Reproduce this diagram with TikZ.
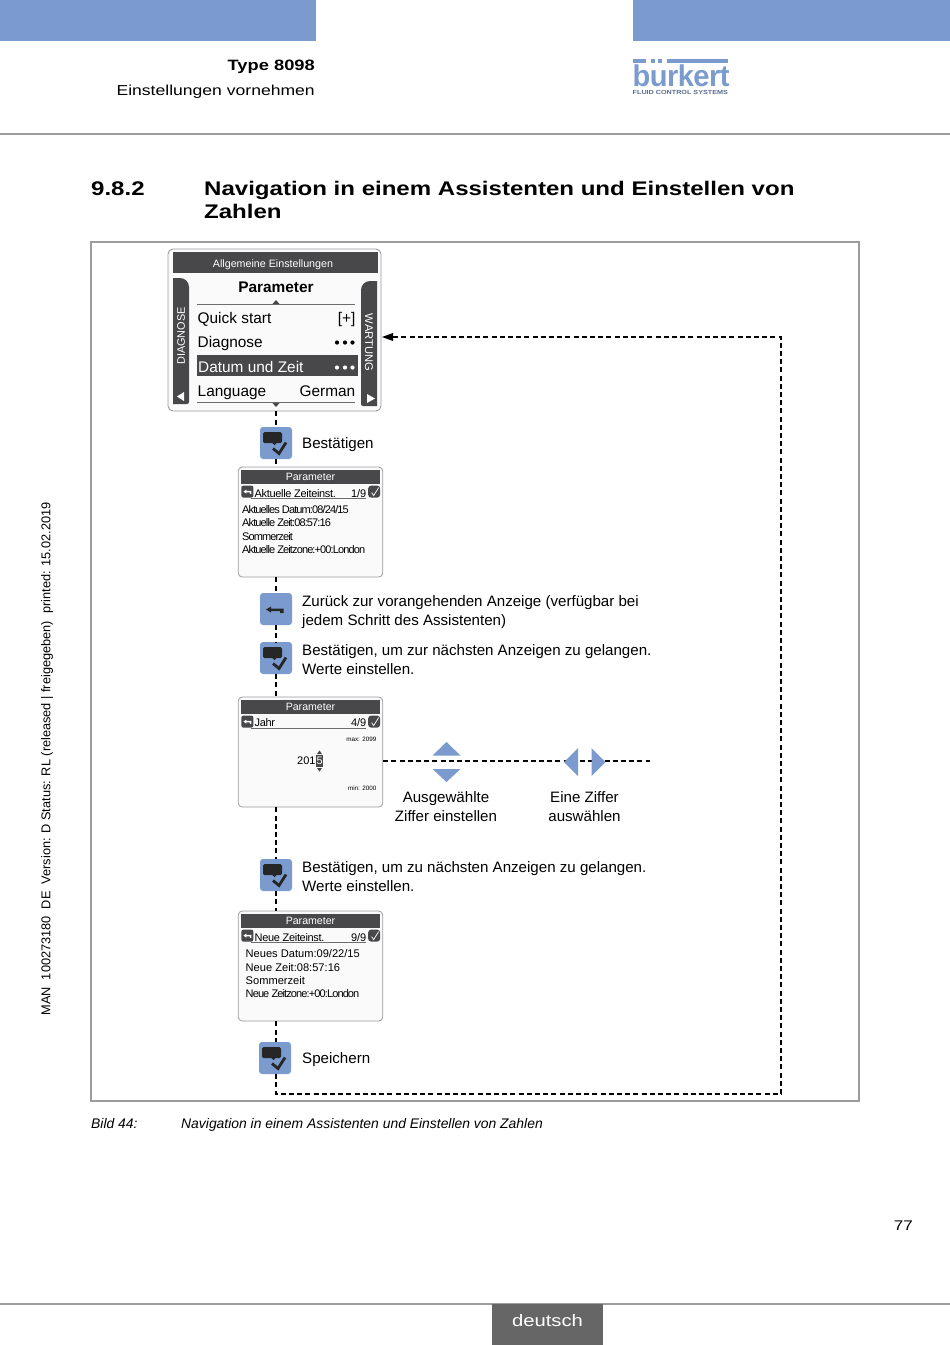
\documentclass[tikz,border=0pt]{standalone}
\usepackage{fontspec}
\setmainfont{Liberation Sans}
\newfontfamily\headfont[FakeStretch=1.22]{Liberation Sans}
\newfontfamily\tightfont[LetterSpace=-3]{Liberation Sans}
\newfontfamily\squeezefont[LetterSpace=-8]{Liberation Sans}
\definecolor{bandblue}{HTML}{7B9BCE}
\definecolor{darkbar}{HTML}{48484A}
\definecolor{rulegray}{HTML}{9A9C9E}
\newcommand{\fsz}[1]{\fontsize{#1}{#1}\selectfont}

\begin{document}
\begin{tikzpicture}[x=1pt,y=-1pt,
  txt/.style={inner sep=0pt,anchor=base west,align=left},
  body/.style={txt,font=\fsz{15.1}},
  scrtxt/.style={txt,font=\fsz{15.4}},
  smalltxt/.style={txt,font=\tightfont\fsz{11}},
  infotxt/.style={txt,font=\squeezefont\fsz{11}},
  screen/.style={draw=rulegray,line width=0.8pt,fill=black!2,rounded corners=4pt,inner sep=0pt,minimum width=144.5pt,minimum height=110pt},
  keybtn/.style={fill=bandblue,rounded corners=3pt,inner sep=0pt,minimum size=32pt},
  flow/.style={line width=1.1pt,dash pattern=on 5pt off 3.2pt},
  wedge/.style={fill=bandblue,draw=none}]

\useasboundingbox (0,0) rectangle (950,1345);

% Page head, bands and rule
\fill[bandblue] (0,0) rectangle (316,41);
\fill[bandblue] (633,0) rectangle (950,41);
\draw[rulegray,line width=1.2pt] (0,134) -- (950,134);
\node[txt,anchor=base east,font=\headfont\bfseries\fsz{15}] (doctype) at (315,70) {Type 8098};
\node[txt,anchor=base east,font=\headfont\fsz{14.4}] (docpart) at (315,95) {Einstellungen vornehmen};

% Logo
\node[txt,anchor=base west,text=bandblue,font=\bfseries\fsz{30},xscale=0.97] (logo) at (632.5,86) {\addfontfeature{LetterSpace=-2}bürkert};
\fill[white] (648.5,62.5) rectangle (665,69.8);
\fill[bandblue] (633,59) rectangle (645.5,62.5);
\fill[bandblue] (651,59) rectangle (654.5,62.5);
\fill[bandblue] (658,59) rectangle (661.5,62.5);
\fill[bandblue] (667,59) rectangle (728,62.5);
\node[txt,text=bandblue!70!black,font=\headfont\bfseries\fsz{5.9}] (logosub) at (632.5,94.5) {FLUID CONTROL SYSTEMS};

% Section title
\node[txt,font=\headfont\bfseries\fsz{19.7}] (secnum) at (91,195) {9.8.2};
\node[txt,font=\headfont\bfseries\fsz{19.7}] (sectitle) at (204,195) {Navigation in einem Assistenten und Einstellen von};
\node[txt,font=\headfont\bfseries\fsz{19.7}] (sectitleb) at (204,218.5) {Zahlen};

% Frame
\draw[rulegray,line width=1.1pt] (91,242) rectangle (859,1101);

% Main menu screen
\node[draw=rulegray,fill=black!2,line width=0.9pt,rounded corners=5pt,inner sep=0pt,minimum width=213pt,minimum height=162pt] (menu) at (274.5,330) {};
\fill[darkbar] (173,252) rectangle (378,273);
\node[font=\fsz{10.7},text=white,inner sep=0pt] (menuhead) at (273,264.5) {Allgemeine Einstellungen};
\node[font=\bfseries\fsz{15.4},inner sep=0pt] (menutitle) at (276,287.5) {Parameter};
\fill[darkbar] (173,278) [rounded corners=9pt] -- (189,278) [rounded corners=2pt] -- (189,404) [sharp corners] -- (173,404) -- cycle;
\fill[darkbar] (377,281) [rounded corners=9pt] -- (361,281) [rounded corners=2pt] -- (361,406) [sharp corners] -- (377,406) -- cycle;
\node[rotate=90,font=\fsz{10.9},text=white,inner sep=0pt] (tabdiag) at (181,336) {DIAGNOSE};
\node[rotate=-90,font=\fsz{11.2},text=white,inner sep=0pt] (tabwart) at (369,342.5) {WARTUNG};
\fill[white] (177,396.5) -- (184,392) -- (184,401) -- cycle;
\fill[white] (367,394) -- (367,403) -- (375,398.5) -- cycle;
\draw[rulegray!70!black,line width=0.6pt] (197,304.5) -- (355,304.5);
\draw[rulegray!70!black,line width=0.6pt] (197,402.5) -- (355,402.5);
\fill[darkbar] (272.5,304) -- (276,300) -- (279.5,304) -- cycle;
\fill[darkbar] (272.5,403) -- (276,407) -- (279.5,403) -- cycle;
\fill[darkbar] (197,355) rectangle (358,376);
\node[scrtxt] (rowa) at (197.5,323.5) {Quick start};
\node[scrtxt,anchor=base east] (rowaval) at (355.5,323.5) {[+]};
\node[scrtxt] (rowb) at (197.5,347.5) {Diagnose};
\node[scrtxt,text=white] (rowc) at (198,372) {Datum und Zeit};
\node[scrtxt] (rowd) at (197.5,396) {Language};
\node[scrtxt,anchor=base east] (rowdval) at (355.5,396) {German};
\foreach \x in {337,345,352.5}{
  \fill (\x,342.5) circle (2.1pt);
  \fill[white] (\x,367.5) circle (2.1pt);
}

% Small screens
\node[screen] (para) at (310.5,522) {};
\node[screen] (parb) at (310.5,752) {};
\node[screen] (parc) at (310.5,966) {};
\foreach \scr in {para,parb,parc}{
  \fill[darkbar] ([shift={(3.5,3)}]\scr.north west) rectangle ([shift={(-3,17)}]\scr.north east);
  \node[font=\fsz{10.6},text=white,inner sep=0pt] (\scr head) at ([yshift=-10.5pt]\scr.north) {Parameter};
  % back and confirm marks of the head row
  \fill[darkbar,rounded corners=2pt] ([shift={(3.5,19)}]\scr.north west) rectangle ([shift={(15.5,31)}]\scr.north west);
  \fill[darkbar,rounded corners=3pt] ([shift={(-15,19)}]\scr.north east) rectangle ([shift={(-3,31)}]\scr.north east);
  \draw[white,line width=0.7pt] ([shift={(-11.5,26)}]\scr.north east) -- ++(2,3) -- ++(5,-8);
  \fill[white] ([shift={(5.5,25)}]\scr.north west) -- ++(3,-2) -- ++(0,1.3) -- ++(5,0) -- ++(0,3) -- ++(-1.5,0) -- ++(0,-1.5) -- ++(-3.5,0) -- ++(0,1.2) -- cycle;
  \draw[rulegray!70!black,line width=0.6pt] ([shift={(13,31.5)}]\scr.north west) -- ([shift={(-17,31.5)}]\scr.north east);
}
\node[smalltxt] (rowe) at (254.5,497) {Aktuelle Zeiteinst.};
\node[txt,anchor=base east,font=\fsz{11}] (rowen) at (366.5,497) {1/9};
\node[infotxt] (infoa) at (242,513) {Aktuelles Datum:08/24/15};
\node[infotxt] (infob) at (242,526.5) {Aktuelle Zeit:08:57:16};
\node[infotxt] (infoc) at (242,540) {Sommerzeit};
\node[infotxt] (infod) at (242,553) {Aktuelle Zeitzone:+00:London};

\node[smalltxt] (rowf) at (254.5,726.5) {Jahr};
\node[txt,anchor=base east,font=\fsz{11}] (rowfn) at (366.5,726.5) {4/9};
\node[txt,anchor=base east,font=\fsz{6.3}] (maxval) at (376.5,741) {max: 2099};
\node[txt,anchor=base east,font=\fsz{6.3}] (minval) at (376.5,790) {min: 2000};
\node[txt,font=\fsz{11}] (yearval) at (297,764.5) {201};
\fill[darkbar] (316,755) rectangle (323,767);
\node[txt,font=\fsz{11},text=white] (yeardig) at (316.4,764.5) {5};
\fill[darkbar] (317,754) -- (319.5,750.5) -- (322,754) -- cycle;
\fill[darkbar] (317,768) -- (319.5,771.5) -- (322,768) -- cycle;

\node[smalltxt] (rowg) at (254.5,941.5) {Neue Zeiteinst.};
\node[txt,anchor=base east,font=\fsz{11}] (rowgn) at (366.5,941.5) {9/9};
\node[txt,font=\fsz{11.1}] (infoe) at (245.5,957.5) {Neues Datum:09/22/15};
\node[txt,font=\fsz{11.1}] (infof) at (245.5,971) {Neue Zeit:08:57:16};
\node[txt,font=\fsz{11.1}] (infog) at (245.5,984.5) {Sommerzeit};
\node[infotxt] (infoh) at (245.5,997.5) {Neue Zeitzone:+00:London};

% Keys
\node[keybtn] (oka) at (276,443) {};
\node[keybtn] (back) at (276,609) {};
\node[keybtn] (okb) at (276,658) {};
\node[keybtn] (okc) at (276,875) {};
\node[keybtn] (okd) at (275,1058) {};
\foreach \btn in {oka,okb,okc,okd}{
  \fill[black!85,rounded corners=1.5pt] ([shift={(-13,-11)}]\btn.center) rectangle ([shift={(6,0)}]\btn.center);
  \fill[black!85] ([shift={(-4,-0.5)}]\btn.center) -- ++(5,0) -- ++(-2.5,2.5) -- cycle;
  \draw[black!85,line width=2.8pt] ([shift={(-3,5.5)}]\btn.center) -- ++(6,5) -- ++(7,-11);
}
\fill[black!85] (266,609.5) -- (271,606.5) -- (271,608.5) -- (283.5,608.5) -- (283.5,613) -- (280,613) -- (280,611) -- (271,611) -- (271,612.5) -- cycle;

% Flow lines
\coordinate (corna) at (276,1094);
\coordinate (cornb) at (781,1094);
\coordinate (cornc) at (781,337);
\coordinate (menuin) at (382,337);
\coordinate (lineend) at (650,761);
\draw[flow] (menu.south -| oka) -- (oka.north);
\draw[flow] (oka.south) -- (para.north -| oka);
\draw[flow] (para.south -| back) -- (back.north);
\draw[flow] (back.south) -- (okb.north);
\draw[flow] (okb.south) -- (parb.north -| okb);
\draw[flow] (parb.south -| okc) -- (okc.north);
\draw[flow] (okc.south) -- (parc.north -| okc);
\draw[flow] (parc.south -| okc) -- (okd.north -| okc);
\draw[flow] (okd.south -| okc) -- (corna) -- (cornb) -- (cornc) -- (menuin);
\fill[black] (menuin) -- ++(11,-4) -- ++(0,8) -- cycle;
\draw[flow] (parb.east |- lineend) -- (lineend);

% Digit arrows
\fill[wedge] (432.5,755.5) -- (446.5,742) -- (460.5,755.5) -- cycle;
\fill[wedge] (432.5,769) -- (446.5,782) -- (460.5,769) -- cycle;
\fill[wedge] (564,762) -- (578,748) -- (578,776) -- cycle;
\fill[wedge] (605.5,762) -- (591.5,748) -- (591.5,776) -- cycle;

% Labels
\node[body] (lbla) at (302,448.5) {Bestätigen};
\node[body] (lblb) at (302,606) {Zurück zur vorangehenden Anzeige (verfügbar bei};
\node[body] (lblbb) at (302,625) {jedem Schritt des Assistenten)};
\node[body] (lblc) at (302,655) {Bestätigen, um zur nächsten Anzeigen zu gelangen.};
\node[body] (lblcb) at (302,674) {Werte einstellen.};
\node[body,align=center,anchor=base] (lbld) at (446,802) {Ausgewählte};
\node[body,align=center,anchor=base] (lbldb) at (446,821) {Ziffer einstellen};
\node[body,align=center,anchor=base] (lble) at (584.5,802) {Eine Ziffer};
\node[body,align=center,anchor=base] (lbleb) at (584.5,821) {auswählen};
\node[body] (lblf) at (302,872) {Bestätigen, um zu nächsten Anzeigen zu gelangen.};
\node[body] (lblfb) at (302,891) {Werte einstellen.};
\node[body] (lblg) at (302,1063.5) {Speichern};

% Caption, margin text and foot
\node[txt,font=\itshape\fsz{13.9}] (capnum) at (91,1128) {Bild 44:};
\node[txt,font=\itshape\fsz{13.9}] (captext) at (181,1128) {Navigation in einem Assistenten und Einstellen von Zahlen};
\node[rotate=90,inner sep=0pt,font=\fsz{12.77}] (margin) at (47,759) {MAN\ \ 100273180\ \ DE\ \ Version: D Status: RL (released | freigegeben)\ \ printed: 15.02.2019};
\node[txt,anchor=base east,font=\headfont\fsz{14}] (pagenum) at (913,1230) {77};
\draw[rulegray,line width=1.2pt] (0,1304) -- (950,1304);
\node[fill=black!60,text=white,font=\headfont\fsz{16.6},inner sep=0pt,minimum width=111pt,minimum height=41pt] (lang) at (547.5,1324.5) {\raisebox{9pt}{deutsch}};

\end{tikzpicture}
\end{document}
